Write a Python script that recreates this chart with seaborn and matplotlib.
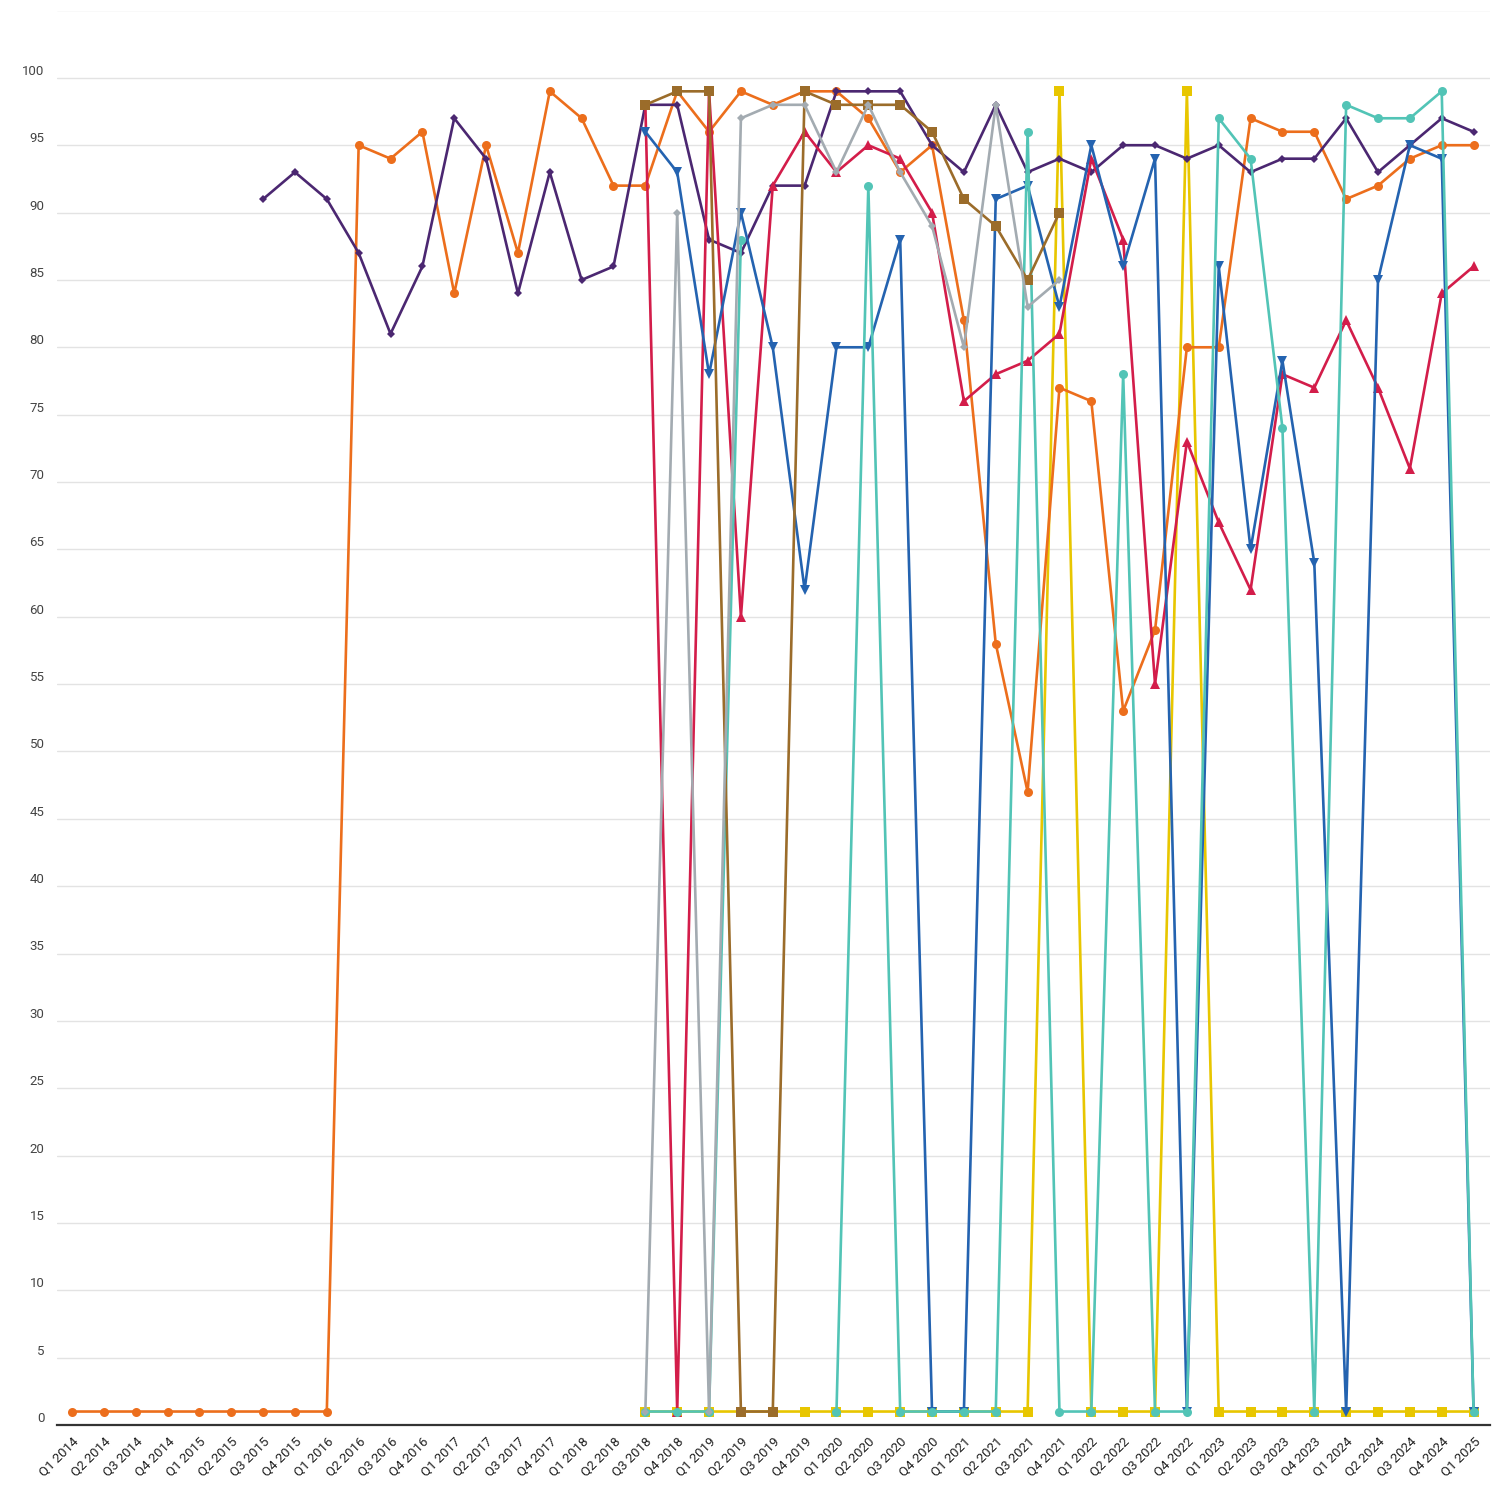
import numpy as np
import pandas as pd
import matplotlib
matplotlib.use("Agg")
import matplotlib.pyplot as plt
import seaborn as sns

quarters = [
    "Q1 2014", "Q2 2014", "Q3 2014", "Q4 2014",
    "Q1 2015", "Q2 2015", "Q3 2015", "Q4 2015",
    "Q1 2016", "Q2 2016", "Q3 2016", "Q4 2016",
    "Q1 2017", "Q2 2017", "Q3 2017", "Q4 2017",
    "Q1 2018", "Q2 2018", "Q3 2018", "Q4 2018",
    "Q1 2019", "Q2 2019", "Q3 2019", "Q4 2019",
    "Q1 2020", "Q2 2020", "Q3 2020", "Q4 2020",
    "Q1 2021", "Q2 2021", "Q3 2021", "Q4 2021",
    "Q1 2022", "Q2 2022", "Q3 2022", "Q4 2022",
    "Q1 2023", "Q2 2023", "Q3 2023", "Q4 2023",
    "Q1 2024", "Q2 2024", "Q3 2024", "Q4 2024",
    "Q1 2025",
]
N = None
pre = [N, N, N, N, N, N, N, N, N, N, N, N, N, N, N, N, N, N]  # Q1 2014 .. Q2 2018

orange = [1, 1, 1, 1, 1, 1, 1, 1, 1,
          95, 94, 96, 84, 95, 87, 99, 97, 92, 92,
          99, 96, 99, 98, 99, 99, 97, 93, 95, 82,
          58, 47, 77, 76, 53, 59, 80, 80, 97, 96,
          96, 91, 92, 94, 95, 95]
purple = [N, N, N, N, N, N,
          91, 93, 91, 87, 81, 86, 97, 94, 84, 93, 85, 86,
          98, 98, 88, 87, 92, 92, 99, 99, 99, 95,
          93, 98, 93, 94, 93, 95, 95, 94, 95, 93,
          94, 94, 97, 93, 95, 97, 96]
red = pre + [98, 1, 99, 60, 92, 96, 93, 95, 94, 90,
             76, 78, 79, 81, 94, 88, 55, 73, 67, 62,
             78, 77, 82, 77, 71, 84, 86]
blue = pre + [96, 93, 78, 90, 80, 62, 80, 80, 88, 1,
              1, 91, 92, 83, 95, 86, 94, 1, 86, 65,
              79, 64, 1, 85, 95, 94, 1]
gray = pre + [1, 90, 1, 97, 98, 98, 93, 98, 93, 89,
              80, 98, 83, 85, N, N, N, N, N, N,
              N, N, N, N, N, N, N]
brown = pre + [98, 99, 99, 1, 1, 99, 98, 98, 98, 96,
               91, 89, 85, 90, N, N, N, N, N, N,
               N, N, N, N, N, N, N]
teal = pre + [1, 1, 1, 88, N, N, 1, 92, 1, 1,
              1, 1, 96, 1, 1, 78, 1, 1, 97, 94,
              74, 1, 98, 97, 97, 99, 1]
yellow = pre + [1, 1, 1, 1, 1, 1, 1, 1, 1, 1,
                1, 1, 1, 99, 1, 1, 1, 99, 1, 1,
                1, 1, 1, 1, 1, 1, 1]

# drawing order bottom -> top
series = [
    ("yellow", yellow, "#E8C600", "s", 6.5),
    ("orange", orange, "#EC6E1C", "o", 6.5),
    ("purple", purple, "#4B2771", "D", 4.5),
    ("red", red, "#D31D4A", "^", 6.5),
    ("blue", blue, "#2463B0", "v", 6.5),
    ("teal", teal, "#52C4B6", "o", 6.5),
    ("brown", brown, "#9B6C2A", "s", 7),
    ("gray", gray, "#A3ABB1", "D", 4.5),
]

sns.set_theme(style="white")
plt.rcParams["font.family"] = ["Roboto", "DejaVu Sans"]

fig = plt.figure(figsize=(15, 15), dpi=100)
ax = fig.add_axes([0.038, 0.05, 0.955, 0.943])

x_idx = np.arange(len(quarters))
for z, (name, vals, color, marker, ms) in enumerate(series):
    v = np.array([np.nan if a is None else a for a in vals], dtype=float)
    valid = ~np.isnan(v)
    seg = np.cumsum(~valid)
    df = pd.DataFrame({"x": x_idx[valid], "y": v[valid], "seg": seg[valid]})
    sns.lineplot(data=df, x="x", y="y", units="seg", estimator=None,
                 color=color, marker=marker, markersize=ms,
                 markeredgewidth=0, linewidth=1.9, sort=False,
                 ax=ax, zorder=3 + z)

ax.set_xlim(-0.47, 44.5)
ax.set_ylim(0, 105)
ax.set_yticks(np.arange(0, 106, 5))
ax.set_yticklabels([str(t) if t <= 100 else "" for t in range(0, 106, 5)])
ax.set_xticks(x_idx)
ax.set_xticklabels(quarters, rotation=45, ha="right", rotation_mode="anchor")
ax.set_xlabel("")
ax.set_ylabel("")

ax.grid(axis="y", color="#E3E3E3", linewidth=1.0)
ax.grid(axis="x", visible=False)
for s in ["top", "right", "left"]:
    ax.spines[s].set_visible(False)
ax.spines["bottom"].set_color("#333333")
ax.spines["bottom"].set_linewidth(1.6)
ax.spines["bottom"].set_zorder(20)

ax.tick_params(axis="y", length=0, pad=9, labelsize=9.5, labelcolor="#444444")
ax.tick_params(axis="x", length=0, pad=7, labelsize=9.5, labelcolor="#222222")
for lab in ax.get_yticklabels():
    lab.set_verticalalignment("bottom")

fig.savefig("out.png", dpi=100, facecolor="white")
